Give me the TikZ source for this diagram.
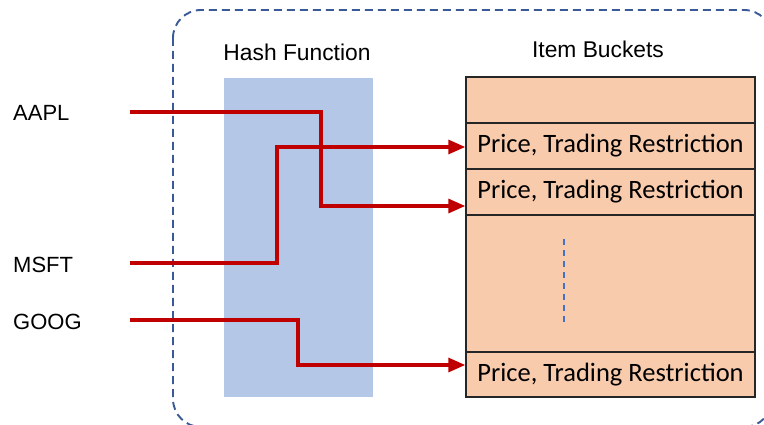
\documentclass[tikz,border=0pt]{standalone}
\usepackage{fontspec}
\setmainfont{Liberation Sans}
\newfontfamily\bucketfont{Carlito}
\usetikzlibrary{arrows.meta}
\definecolor{framecol}{HTML}{3A5A97}
\definecolor{hashcol}{HTML}{B4C7E7}
\definecolor{bucketcol}{HTML}{F8CBAD}
\definecolor{linkcol}{HTML}{C00000}
\definecolor{gapcol}{HTML}{4472C4}
\begin{document}
\begin{tikzpicture}[x=1pt,y=-1pt,
  heading/.style={font=\fontsize{22.8}{26}\selectfont, anchor=center},
  ticker/.style={font=\fontsize{22}{26}\selectfont, anchor=west, inner sep=0pt},
  bucket/.style={draw=black!85, line width=1.4pt, fill=bucketcol, inner sep=0pt,
    minimum width=289pt, font=\bucketfont\fontsize{26.5}{30}\selectfont},
  link/.style={draw=linkcol, line width=3.2pt,
    -{Triangle[length=17pt,width=14pt]}}]
  \useasboundingbox (0,0) rectangle (764,425);

  % outer dashed frame, running past the right and bottom edges
  \begin{scope}
    \clip (0,0) rectangle (764,425);
    \draw[framecol, line width=1.9pt, dash pattern=on 8pt off 5pt, rounded corners=28pt]
      (173,10) rectangle (772,427);
  \end{scope}

  % hash function column
  \node[fill=hashcol, inner sep=0pt, minimum width=149pt, minimum height=319pt]
    (hash) at (298.5,237.5) {};
  \node[heading] (hashlabel) at (297,52) {Hash Function};
  \node[heading] (bucketlabel) at (598,49) {Item Buckets};

  % bucket table
  \node[bucket, minimum height=46pt] (b0) at (610.5,100) {};
  \node[bucket, minimum height=46pt] (b1) at (610.5,146) {Price, Trading Restriction};
  \node[bucket, minimum height=46pt] (b2) at (610.5,192) {Price, Trading Restriction};
  \node[bucket, minimum height=137pt] (b3) at (610.5,283.5) {};
  \node[bucket, minimum height=45pt] (b4) at (610.5,374.5) {Price, Trading Restriction};
  \draw[gapcol, line width=1.8pt, dash pattern=on 6pt off 5pt] (564,239) -- (564,325);

  % keys
  \node[ticker] (aapl) at (13,113) {AAPL};
  \node[ticker] (msft) at (13,265) {MSFT};
  \node[ticker] (goog) at (13,322) {GOOG};

  \coordinate (aaplS) at (130,112);
  \coordinate (aaplT) at (321,206);
  \coordinate (msftS) at (130,263);
  \coordinate (msftT) at (277,147);
  \coordinate (googS) at (130,320);
  \coordinate (googT) at (298,365);

  \draw[link] (aaplS) -| (aaplT) -- (aaplT -| b2.west);
  \draw[link] (msftS) -| (msftT) -- (msftT -| b1.west);
  \draw[link] (googS) -| (googT) -- (googT -| b4.west);
\end{tikzpicture}
\end{document}
